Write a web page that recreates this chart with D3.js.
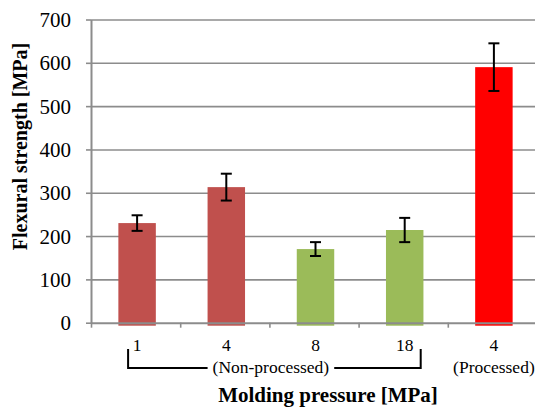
<!DOCTYPE html>
<html lang="en">
    <script src="https://d3js.org/d3.v7.min.js"></script>
    <head>
        <title>Flexural strength</title>
    </head>
    <style>
        *{
            margin: 0px;
            padding: 0px;
        }
        body{
            background-color: white;
        }
    </style>
    <body>
        <div class="chart"></div>
        <script>
            // data
            var pressures=["1","4","8","18","4"];
            var strength=[230,313,170,214,590];
            var errors=[18,31,16,28,55];
            var barColors=["#C0504D","#C0504D","#9BBB59","#9BBB59","#FF0000"];
            var yTicks=[0,100,200,300,400,500,600,700];
            var groupNon="(Non-processed)";
            var groupPro="(Processed)";

            var width=535;
            var height=407;
            var mLeft=91, mRight=537, mTop=19.5, mBottom=322.7;
            var gray="#8c8c8c";
            var serif="Liberation Serif";

            const svg=d3
            .select('.chart')
            .append('svg')
            .attr('width',width)
            .attr('height',height)
            .attr('font-family',serif);

            /*---------- scales ----------*/
            var yScale=d3
            .scaleLinear()
            .domain([0,700])
            .range([mBottom,mTop]);

            var xScale=d3
            .scaleBand()
            .domain(d3.range(pressures.length))
            .range([mLeft,mRight])
            .paddingInner(0.58)
            .paddingOuter(0.29);

            // boundaries between categories
            var edgeScale=d3
            .scaleLinear()
            .domain([0,pressures.length])
            .range([mLeft,mRight]);

            /*---------- grid ----------*/
            var grid=svg
            .append('g')
            .attr('transform','translate('+mLeft+',0)')
            .call(d3.axisLeft(yScale).tickValues(yTicks.slice(1)).tickSize(-(mRight-mLeft)).tickFormat(''));
            grid.select('.domain').remove();
            grid.selectAll('line')
            .attr('stroke',gray)
            .attr('stroke-width',1.6);

            /*---------- bars ----------*/
            svg
            .selectAll('rect.bar')
            .data(strength)
            .enter()
            .append('rect')
            .attr('class','bar')
            .attr('x',(d,i)=>xScale(i)+1.5)
            .attr('y',(d)=>yScale(d))
            .attr('width',xScale.bandwidth())
            .attr('height',(d)=>yScale(0)-yScale(d)+3)
            .attr('fill',(d,i)=>barColors[i]);

            /*---------- axes ----------*/
            var yAxis=svg
            .append('g')
            .attr('transform','translate('+mLeft+',0)')
            .call(d3.axisLeft(yScale).tickValues(yTicks).tickSize(5).tickPadding(15).tickSizeOuter(0));
            yAxis.attr('font-family',serif).attr('font-size',21);
            yAxis.select('.domain').attr('stroke',gray).attr('stroke-width',2);
            yAxis.selectAll('line').attr('stroke',gray).attr('stroke-width',1.6);
            yAxis.selectAll('text')
            .attr('fill','black')
            .attr('dy','0.33em');

            var xAxis=svg
            .append('g')
            .attr('transform','translate(0,'+mBottom+')')
            .call(d3.axisBottom(edgeScale).tickValues(d3.range(pressures.length+1)).tickSize(5).tickSizeOuter(0).tickFormat(''));
            xAxis.select('.domain').attr('stroke',gray).attr('stroke-width',2);
            xAxis.selectAll('line').attr('stroke',gray).attr('stroke-width',1.6);

            /*---------- error bars ----------*/
            var eb=svg
            .selectAll('g.err')
            .data(strength)
            .enter()
            .append('g')
            .attr('class','err')
            .attr('stroke','black')
            .attr('stroke-width',2);

            var cx=(i)=>xScale(i)+xScale.bandwidth()/2+1.5;
            eb.append('line')
            .attr('x1',(d,i)=>cx(i)).attr('x2',(d,i)=>cx(i))
            .attr('y1',(d,i)=>yScale(d+errors[i])).attr('y2',(d,i)=>yScale(d-errors[i]));
            eb.append('line')
            .attr('x1',(d,i)=>cx(i)-5.5).attr('x2',(d,i)=>cx(i)+5.5)
            .attr('y1',(d,i)=>yScale(d+errors[i])).attr('y2',(d,i)=>yScale(d+errors[i]));
            eb.append('line')
            .attr('x1',(d,i)=>cx(i)-5.5).attr('x2',(d,i)=>cx(i)+5.5)
            .attr('y1',(d,i)=>yScale(d-errors[i])).attr('y2',(d,i)=>yScale(d-errors[i]));

            /*---------- category labels ----------*/
            svg
            .selectAll('text.cat')
            .data(pressures)
            .enter()
            .append('text')
            .attr('class','cat')
            .attr('x',(d,i)=>cx(i))
            .attr('y',351)
            .attr('text-anchor','middle')
            .attr('font-size',17.5)
            .text((d)=>d);

            var nonX=(cx(0)+cx(3))/2;
            var nonText=svg
            .append('text')
            .attr('x',nonX)
            .attr('y',373)
            .attr('text-anchor','middle')
            .attr('font-size',17.5)
            .text(groupNon);

            svg
            .append('text')
            .attr('x',cx(4))
            .attr('y',373)
            .attr('text-anchor','middle')
            .attr('font-size',17.5)
            .text(groupPro);

            // bracket under the non-processed group
            var half=nonText.node().getComputedTextLength()/2+5;
            var bx0=cx(0)-9, bx1=cx(3)+16, by0=349, by1=368;
            svg
            .append('path')
            .attr('d','M'+bx0+','+by0+'V'+by1+'H'+(nonX-half)+
                      'M'+(nonX+half)+','+by1+'H'+bx1+'V'+by0)
            .attr('fill','none')
            .attr('stroke','black')
            .attr('stroke-width',2);

            /*---------- titles ----------*/
            svg
            .append('text')
            .attr('transform','translate(27,146.5) rotate(-90)')
            .attr('text-anchor','middle')
            .attr('font-size',20)
            .attr('font-weight','bold')
            .text('Flexural strength [MPa]');

            svg
            .append('text')
            .attr('x',328)
            .attr('y',402)
            .attr('text-anchor','middle')
            .attr('font-size',21)
            .attr('font-weight','bold')
            .text('Molding pressure [MPa]');
        </script>
    </body>
</html>
